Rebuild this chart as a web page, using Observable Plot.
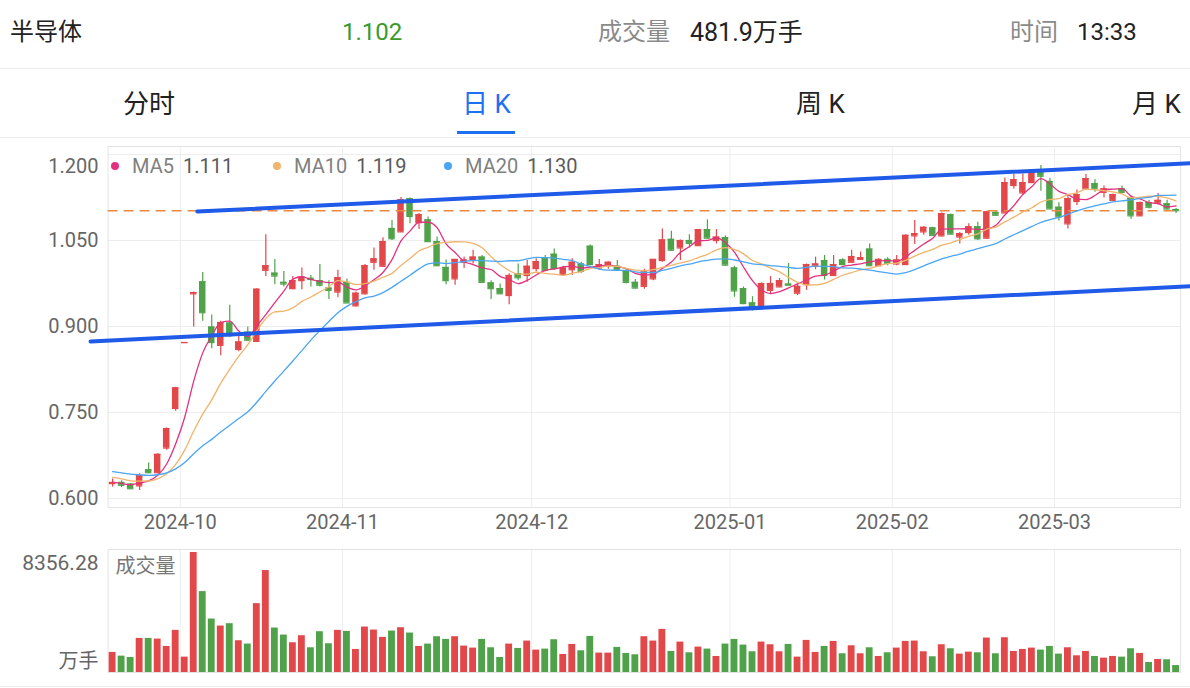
<!DOCTYPE html>
<html><head><meta charset="utf-8">
<script src="https://cdn.jsdelivr.net/npm/d3@7"></script>
<script src="https://cdn.jsdelivr.net/npm/@observablehq/plot@0.6"></script>
<style>
body{margin:0;width:1190px;height:688px;position:relative;background:#fff;font-family:Roboto,"Noto Sans CJK SC",sans-serif;overflow:hidden}
.t{position:absolute;white-space:nowrap;line-height:1}
.hl{position:absolute;left:0;width:1190px;height:1px;background:#ececec}
.leg{position:absolute;top:156px;font-size:20px;line-height:20px;white-space:nowrap}
.dot{display:inline-block;width:8px;height:8px;border-radius:50%;margin-right:13px;vertical-align:3px}
.nm{color:#808080;margin-right:9px}
.vl{color:#5a5a5a}
#main,#vol{position:absolute;left:0}
#main{top:140px}
#vol{top:540px}
</style></head><body>
<div class="t" style="left:10px;top:20px;font-size:24px;color:#222">半导体</div>
<div class="t" style="left:342px;top:20px;font-size:24px;color:#3b9a2c">1.102</div>
<div class="t" style="left:598px;top:20px;font-size:24px;color:#8a8a8a">成交量</div>
<div class="t" style="left:690px;top:20px;font-size:25px;color:#222">481.9万手</div>
<div class="t" style="left:1010px;top:20px;font-size:24px;color:#8a8a8a">时间</div>
<div class="t" style="left:1077px;top:20px;font-size:24px;color:#222">13:33</div>
<div class="hl" style="top:68px"></div>
<div class="t" style="left:123px;top:91px;font-size:26px;color:#222">分时</div>
<div class="t" style="left:462px;top:91px;font-size:26px;color:#1f6ff2">日 K</div>
<div class="t" style="left:796px;top:91px;font-size:26px;color:#222">周 K</div>
<div class="t" style="left:1132px;top:91px;font-size:26px;color:#222">月 K</div>
<div style="position:absolute;left:457px;top:131px;width:58px;height:3px;background:#1f6ff2"></div>
<div class="hl" style="top:137px"></div>
<div id="main"></div>
<div id="vol"></div>
<div class="hl" style="top:686px"></div>
<div id="legend"></div>
<script>
// ---- data ----
const openP = [
0.626,0.628,0.625,0.622,0.650,0.645,0.688,0.757,0.872,0.957,
0.978,0.899,0.867,0.906,0.860,0.890,0.874,0.998,0.993,0.977,
0.966,0.980,0.984,0.980,0.967,0.960,0.977,0.936,0.957,1.012,
1.005,1.071,1.065,1.123,1.081,1.086,1.048,1.003,0.983,1.012,
1.015,1.021,0.976,0.966,0.954,0.992,0.989,1.001,1.020,1.026,
0.991,0.999,1.009,1.040,1.002,1.006,1.005,0.996,0.977,0.970,
0.983,1.015,1.052,1.037,1.050,1.041,1.069,1.050,1.055,1.002,
0.966,0.941,0.935,0.963,0.969,0.974,0.958,0.973,1.005,1.015,
0.989,1.016,1.012,1.017,1.035,1.006,1.017,1.009,1.008,1.058,
1.065,1.072,1.058,1.095,1.056,1.064,1.074,1.054,1.099,1.098,
1.146,1.133,1.151,1.172,1.153,1.108,1.079,1.118,1.140,1.149,
1.134,1.120,1.140,1.124,1.093,1.116,1.115,1.114,1.104];
const highP = [
0.634,0.631,0.626,0.643,0.662,0.678,0.723,0.794,0.872,0.960,
0.994,0.920,0.909,0.937,0.884,0.899,0.966,1.060,1.017,0.996,
0.987,1.002,0.989,1.008,0.980,0.998,0.983,0.960,1.008,1.037,
1.055,1.085,1.125,1.124,1.097,1.091,1.056,1.016,1.017,1.021,
1.033,1.024,0.980,0.974,0.992,1.009,1.015,1.018,1.024,1.035,
1.005,1.018,1.012,1.042,1.017,1.013,1.015,0.999,0.982,1.000,
1.017,1.070,1.066,1.051,1.060,1.069,1.086,1.069,1.058,1.005,
0.969,0.952,0.976,0.987,0.984,1.010,0.974,1.009,1.021,1.024,
1.024,1.018,1.033,1.030,1.044,1.018,1.020,1.024,1.060,1.085,
1.074,1.073,1.098,1.096,1.064,1.079,1.082,1.101,1.101,1.159,
1.166,1.166,1.172,1.181,1.158,1.116,1.129,1.138,1.165,1.156,
1.145,1.131,1.145,1.126,1.117,1.120,1.132,1.120,1.106];
const lowP = [
0.620,0.619,0.616,0.614,0.643,0.643,0.684,0.752,0.872,0.899,
0.909,0.861,0.849,0.881,0.856,0.874,0.873,0.987,0.973,0.969,
0.964,0.964,0.969,0.969,0.947,0.950,0.941,0.934,0.955,0.998,
1.004,1.050,1.064,1.079,1.069,1.047,1.005,0.973,0.972,1.001,
1.009,0.976,0.947,0.956,0.938,0.980,0.977,0.995,0.995,0.998,
0.989,0.989,0.993,1.006,0.998,1.000,0.998,0.974,0.966,0.965,
0.980,1.012,1.031,1.015,1.037,1.040,1.053,1.044,1.006,0.951,
0.938,0.927,0.934,0.957,0.968,0.971,0.954,0.963,0.999,0.981,
0.987,1.006,1.010,1.015,1.005,1.005,1.006,1.006,1.007,1.043,
1.059,1.058,1.056,1.060,1.044,1.059,1.050,1.052,1.093,1.098,
1.140,1.129,1.150,1.136,1.104,1.084,1.070,1.111,1.139,1.134,
1.124,1.119,1.133,1.087,1.092,1.105,1.112,1.103,1.097];
const closeP = [
0.628,0.623,0.617,0.640,0.645,0.677,0.722,0.793,0.872,0.959,
0.924,0.872,0.907,0.884,0.873,0.876,0.965,1.006,0.988,0.974,
0.980,0.986,0.982,0.972,0.963,0.985,0.941,0.958,1.006,1.018,
1.048,1.053,1.121,1.092,1.095,1.048,1.006,0.980,1.017,1.016,
1.021,0.977,0.966,0.957,0.989,0.985,1.005,1.013,0.998,1.001,
1.002,1.012,0.996,1.008,1.008,1.012,0.999,0.977,0.967,0.995,
1.017,1.051,1.033,1.050,1.045,1.069,1.054,1.056,1.007,0.962,
0.940,0.935,0.975,0.975,0.980,0.972,0.970,1.008,1.009,0.989,
1.008,1.008,1.022,1.020,1.006,1.017,1.010,1.016,1.059,1.062,
1.073,1.059,1.097,1.061,1.062,1.074,1.053,1.100,1.094,1.151,
1.156,1.151,1.169,1.162,1.105,1.091,1.123,1.130,1.158,1.140,
1.140,1.130,1.134,1.093,1.116,1.108,1.120,1.105,1.102];
const volume = [
1397,1140,1047,2374,2374,2328,1815,2933,1071,8356.28,
5633,3724,3235,3398,2211,1979,4795,7099,3096,2607,
2072,2560,1722,2840,2002,2933,2863,1606,3166,2956,
2444,2886,3119,2747,1816,1979,2491,2304,2491,1839,
1699,2304,1722,1047,1979,1676,2188,1560,1629,2281,
1257,1955,1513,2514,1350,1350,1746,1327,1234,2491,
2188,3003,1466,2118,1373,1769,1629,1117,1979,2304,
1909,1443,2118,1932,1443,1955,1071,2235,1397,1816,
2165,1304,1862,1304,1722,1117,1373,1699,2165,2188,
1443,1094,1932,1653,1280,1420,1373,2398,1304,2421,
1466,1606,1699,1560,1816,1280,1722,1164,1466,1117,
1001,1117,1071,1653,1327,698,908,885,482];
// closes before the visible window (estimated from where the MA lines start)
const preCloses = [0.668,0.665,0.662,0.660,0.658,0.656,0.654,0.652,0.650,0.645,
                   0.652,0.649,0.646,0.643,0.640,0.632,0.628,0.625,0.627];
const monthStartIdx = [8, 26, 47, 69, 87, 105];
const monthLabels = ["2024-10","2024-11","2024-12","2025-01","2025-02","2025-03"];
const yTicks = [0.6, 0.75, 0.9, 1.05, 1.2];
const maNames = ["MA5","MA10","MA20"];
const maPeriods = [5, 10, 20];
const maValues = ["1.111","1.119","1.130"];
const lastPrice = 1.102;
const upperTrend = [[9.4, 1.1006], [119.6, 1.1849]];
const lowerTrend = [[-2.45, 0.8739], [119.6, 0.9703]];

// ---- styles ----
const RED = "#e2474a", GREEN = "#4fa24a";
const MA_COLORS = ["#e3317f", "#f0b46c", "#4aa5f3"];
const GRID = "#ededed";
const font = "Roboto, 'Noto Sans CJK SC', sans-serif";

const candles = closeP.map((c, i) => ({i, open: openP[i], high: highP[i], low: lowP[i], close: c, vol: volume[i], up: c >= openP[i]}));
const allCloses = preCloses.concat(closeP);
const P = preCloses.length;
const maSeries = maPeriods.map(k => closeP.map((_, i) => ({i, v: d3.mean(allCloses.slice(i + P - k + 1, i + P + 1))})));
const col = d => d.up ? RED : GREEN;
const HW = 0.36;
const xOpts = {domain: [-0.5, 118.5]};
const M = {width: 1190, marginLeft: 107.6, marginRight: 9.9};
const st = {fontFamily: font, fontSize: "20px", color: "#666", background: "transparent"};

const main = Plot.plot({
  ...M, height: 400, marginTop: 6, marginBottom: 33,
  x: xOpts,
  y: {domain: [0.5843, 1.21395]},
  color: {type: "identity"},
  style: st,
  marks: [
    Plot.ruleY(yTicks, {stroke: GRID}),
    Plot.ruleX(monthStartIdx, {x: d => d - 0.5, stroke: GRID}),
    Plot.frame({stroke: "#e4e4e4"}),
    Plot.axisY({ticks: yTicks.filter(d => d < 1.2), tickSize: 0, tickPadding: 9.6, tickFormat: d3.format(".3f"), label: null}),
    Plot.axisY({ticks: [1.2], tickSize: 0, tickPadding: 9.6, tickFormat: d3.format(".3f"), dy: 12, label: null}),
    Plot.axisX({ticks: monthStartIdx.map(d => d - 0.5), tickSize: 0, tickPadding: 7,
      tickFormat: d => monthLabels[monthStartIdx.indexOf(d + 0.5)], label: null}),
    Plot.ruleX(candles, {x: "i", y1: "low", y2: "high", stroke: col, strokeWidth: 1.2}),
    Plot.rect(candles, {x1: d => d.i - HW, x2: d => d.i + HW, y1: "open", y2: "close", fill: col}),
    Plot.ruleY(candles, {x1: d => d.i - HW, x2: d => d.i + HW, y: "open", stroke: col, strokeWidth: 1.2}),
    Plot.ruleY(candles, {x1: d => d.i - HW, x2: d => d.i + HW, y: "close", stroke: col, strokeWidth: 1.2}),
    Plot.ruleY([lastPrice], {stroke: "#e98a43", strokeWidth: 1.5, strokeDasharray: "10,6"}),
    ...maSeries.map((s, k) => Plot.line(s, {x: "i", y: "v", stroke: MA_COLORS[k], strokeWidth: 1.3, curve: "monotone-x"})),
    Plot.line(upperTrend, {x: d => d[0], y: d => d[1], stroke: "#1f5ae8", strokeWidth: 4}),
    Plot.line(lowerTrend, {x: d => d[0], y: d => d[1], stroke: "#1f5ae8", strokeWidth: 4})
  ]
});
document.getElementById("main").appendChild(main);

const vmax = d3.max(volume);
const vol = Plot.plot({
  ...M, height: 148, marginTop: 9, marginBottom: 16,
  x: {...xOpts, axis: null},
  y: {domain: [0, vmax * 123 / 120], axis: null},
  color: {type: "identity"},
  style: st,
  marks: [
    Plot.ruleX(monthStartIdx, {x: d => d - 0.5, stroke: GRID}),
    Plot.frame({stroke: "#e4e4e4"}),
    Plot.rectY(candles, {x1: d => d.i - 0.38, x2: d => d.i + 0.38, y: "vol", fill: col}),
    Plot.text([vmax], {frameAnchor: "top-left", lineAnchor: "middle", text: d => d.toFixed(2), textAnchor: "end", dx: -9.6, dy: 14, fill: "#666", fontSize: 21}),
    Plot.text(["万手"], {frameAnchor: "bottom-left", lineAnchor: "middle", text: d => d, textAnchor: "end", dx: -9.6, dy: -11, fill: "#666"}),
    Plot.text(["成交量"], {frameAnchor: "top-left", lineAnchor: "middle", text: d => d, textAnchor: "start", dx: 7.4, dy: 17, fill: "#777"})
  ]
});
document.getElementById("vol").appendChild(vol);

// MA legend
const legLeft = [111, 273, 444];
const leg = document.getElementById("legend");
maNames.forEach((n, k) => {
  const el = document.createElement("div");
  el.className = "leg";
  el.style.left = legLeft[k] + "px";
  el.innerHTML = `<span class="dot" style="background:${MA_COLORS[k]}"></span><span class="nm">${n}</span><span class="vl">${maValues[k]}</span>`;
  leg.appendChild(el);
});
</script>
</body></html>
